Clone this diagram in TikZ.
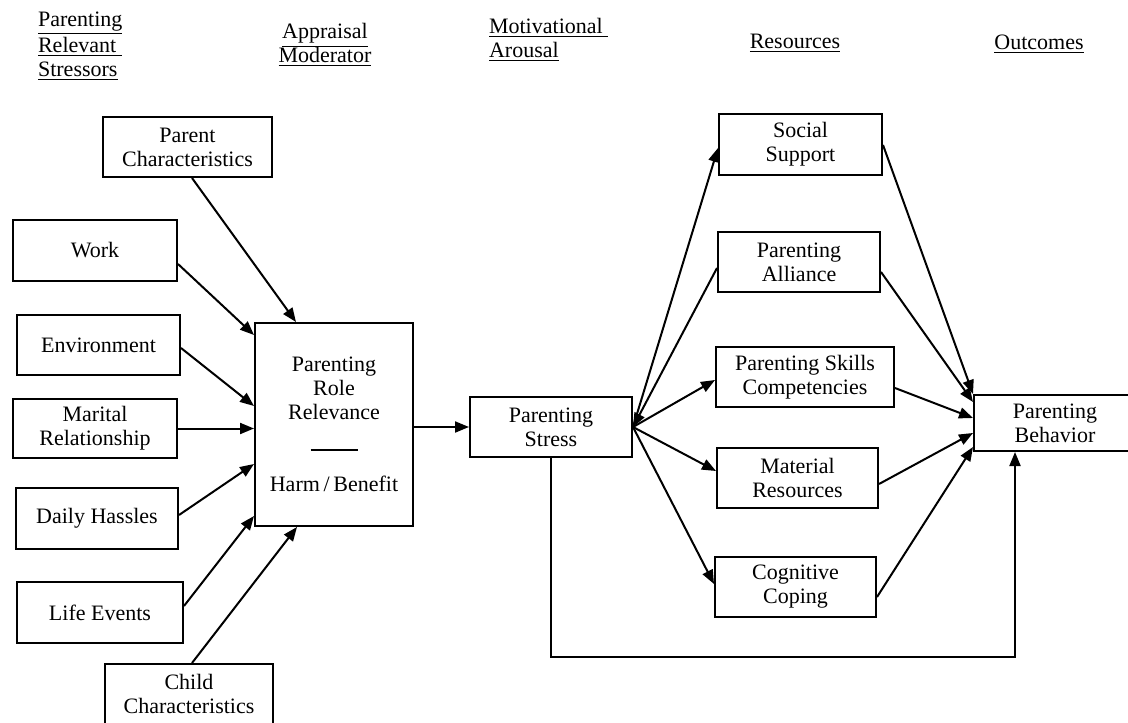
\documentclass[tikz,border=0pt]{standalone}
\usepackage{fontspec}
\setmainfont{Liberation Serif}
\usepackage{tikz}
\usetikzlibrary{arrows.meta}

\begin{document}
\begin{tikzpicture}[x=0.5pt, y=-0.5pt,
    every node/.style={font=\fontsize{11}{12}\selectfont, align=center},
    box/.style={draw, line width=1pt, inner sep=0pt},
    head/.style={align=left, anchor=west},
    pfeil/.style={-{Triangle[length=7pt,width=5.5pt]}, line width=1pt}]
    \useasboundingbox (0,0) rectangle (1128,722);

    % Ueberschriften
    \node[head] (hStressors) at (31,46) {\underline{Parenting}\\\underline{Relevant\ }\\\underline{Stressors}};
    \node (hAppraisal) at (325,45) {\underline{Appraisal}\\\underline{Moderator}};
    \node[head] (hArousal) at (482,40) {\underline{Motivational\ }\\\underline{Arousal}};
    \node (hResources) at (795,43) {\underline{Resources}};
    \node (hOutcomes) at (1039,44) {\underline{Outcomes}};

    % Stressoren
    \node[box, minimum width=84.5pt, minimum height=30pt] (parentChar) at (187.5,147) {Parent\\Characteristics};
    \node[box, minimum width=82pt, minimum height=30.5pt] (work) at (95,250.5) {Work};
    \node[box, minimum width=81.5pt, minimum height=30pt] (environment) at (98.5,345) {Environment};
    \node[box, minimum width=82pt, minimum height=29.5pt] (marital) at (95,428.5) {Marital\\Relationship};
    \node[box, minimum width=81pt, minimum height=30.5pt] (hassles) at (97,518.5) {Daily Hassles};
    \node[box, minimum width=83pt, minimum height=30.5pt] (lifeEvents) at (100,612.5) {Life Events};
    \node[box, minimum width=84pt, minimum height=30pt] (childChar) at (189,694) {Child\\Characteristics};

    % Bewertung und Stress
    \node[box, minimum width=79pt, minimum height=101.5pt] (roleRel) at (334,424.5)
        {Parenting\\Role\\Relevance\\[5pt]\rule[1.5pt]{23.5pt}{0.9pt}\\[7pt]Harm\,/\,Benefit};
    \node[box, minimum width=81pt, minimum height=30pt] (stress) at (551,427) {Parenting\\Stress};

    % Ressourcen
    \node[box, minimum width=81.5pt, minimum height=30.5pt] (social) at (800.5,144.5) {Social\\Support};
    \node[box, minimum width=81pt, minimum height=30pt] (alliance) at (799,262) {Parenting\\Alliance};
    \node[box, minimum width=89pt, minimum height=30pt] (skills) at (805,377) {Parenting Skills\\Competencies};
    \node[box, minimum width=80.5pt, minimum height=30pt] (material) at (797.5,478) {Material\\Resources};
    \node[box, minimum width=80.5pt, minimum height=30pt] (cognitive) at (795.5,587) {Cognitive\\Coping};

    % Ergebnis (rechts offen)
    \node[box, minimum width=81pt, minimum height=28pt] (behavior) at (1055,423) {Parenting\\Behavior};
    \coordinate (loopCorner) at (1015,657);

    % Verbindungslinien
    \draw[pfeil] (parentChar.south -| 192,0) -- (roleRel.north -| 296,0);
    \foreach \von/\ya/\yb in {work/264/335, environment/348/406, marital/428.5/428.5,
                              hassles/515/464, lifeEvents/606/516} {
        \draw[pfeil] (\von.east |- 0,\ya) -- (roleRel.west |- 0,\yb);
    }
    \draw[pfeil] (childChar.north -| 192,0) -- (roleRel.south -| 297,0);
    \draw[pfeil] (roleRel.east |- stress.west) -- (stress.west);

    \foreach \nach/\y in {social/148, skills/380, material/471, cognitive/584} {
        \draw[pfeil] (stress.east) -- (\nach.west |- 0,\y);
    }
    \draw[pfeil, {Triangle[length=7pt,width=5.5pt]}-] (stress.east) -- (alliance.west |- 0,268);

    \foreach \von/\ya/\yb in {social/145/394, alliance/272/402, skills/388/418,
                              material/484/433, cognitive/597/447} {
        \draw[pfeil] (\von.east |- 0,\ya) -- (behavior.west |- 0,\yb);
    }
    \draw[pfeil] (stress.south) |- (loopCorner) -- (behavior.south -| loopCorner);
\end{tikzpicture}
\end{document}
